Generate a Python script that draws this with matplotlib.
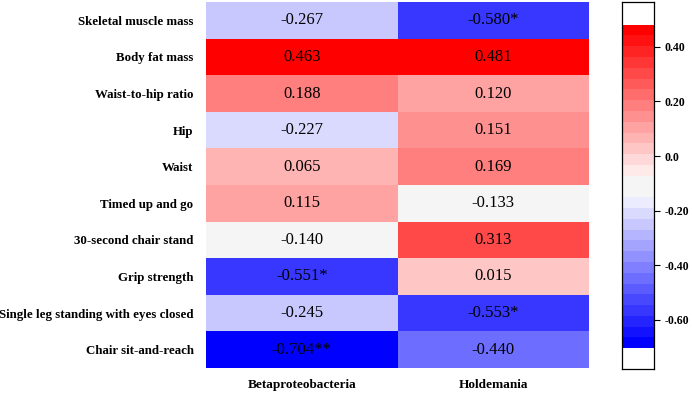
import numpy as np
import matplotlib
matplotlib.use("Agg")
import matplotlib.pyplot as plt
from matplotlib.colors import LinearSegmentedColormap, BoundaryNorm, ListedColormap

rows = ["Skeletal muscle mass", "Body fat mass", "Waist-to-hip ratio", "Hip", "Waist",
        "Timed up and go", "30-second chair stand", "Grip strength",
        "Single leg standing with eyes closed", "Chair sit-and-reach"]
cols = ["Betaproteobacteria", "Holdemania"]
beta = [-0.267, 0.463, 0.188, -0.227, 0.065, 0.115, -0.140, -0.551, -0.245, -0.704]
hold = [-0.580, 0.481, 0.120, 0.151, 0.169, -0.133, 0.313, 0.015, -0.553, -0.440]
beta_lab = ["-0.267", "0.463", "0.188", "-0.227", "0.065", "0.115", "-0.140", "-0.551*", "-0.245", "-0.704**"]
hold_lab = ["-0.580*", "0.481", "0.120", "0.151", "0.169", "-0.133", "0.313", "0.015", "-0.553*", "-0.440"]
cbar_ticks = [0.40, 0.20, 0.0, -0.20, -0.40, -0.60]
cbar_ticklabels = ["0.40", "0.20", "0.0", "-0.20", "-0.40", "-0.60"]

plt.rcParams['font.family'] = ['Liberation Serif', 'DejaVu Serif']

data = np.array([beta, hold]).T
labels = np.array([beta_lab, hold_lab]).T
vmin, vmax = data.min(), data.max()
nlev = 30
bounds = np.linspace(vmin, vmax, nlev + 1)
blue_side = LinearSegmentedColormap.from_list("b", ["#0000ff", "#ececff"])
red_side = LinearSegmentedColormap.from_list("r", ["#ffeaea", "#ff0000"])
centers = (bounds[:-1] + bounds[1:]) / 2
mid = nlev // 2
cols_list = []
for k, c in enumerate(centers):
    if k < mid - 1:
        cols_list.append(blue_side(k / (mid - 2)))
    elif k > mid:
        cols_list.append(red_side((k - mid - 1) / (nlev - mid - 2)))
    else:
        cols_list.append((0.96, 0.96, 0.96, 1))
cmap = ListedColormap(cols_list)
norm = BoundaryNorm(bounds, cmap.N)

fig = plt.figure(figsize=(6.92, 3.95), dpi=100)
ax = fig.add_axes([206/692, 1 - 368/395, (589-206)/692, 366/395])
ax.pcolormesh(np.arange(3), np.arange(11), data, cmap=cmap, norm=norm)
ax.set_xlim(0, 2)
ax.set_ylim(10, 0)
for i in range(10):
    for j in range(2):
        ax.text(j + 0.5, i + 0.5, labels[i, j], ha='center', va='center', fontsize=12, color='black')
ax.set_xticks([0.5, 1.5])
ax.set_xticklabels(cols, fontsize=9.5, fontweight='bold')
ax.set_yticks(np.arange(10) + 0.5)
ax.set_yticklabels(rows, fontsize=9.3, fontweight='bold')
ax.tick_params(length=0, pad=9)
ax.tick_params(axis='x', pad=8)
for s in ax.spines.values():
    s.set_visible(False)

cax = fig.add_axes([622/692, 1 - 369/395, 32/692, 367/395])
cax.pcolormesh([0, 1], bounds, centers.reshape(-1, 1), cmap=cmap, norm=norm)
cax.set_xlim(0, 1)
cax.set_ylim(vmin - 0.076, vmax + 0.083)
cax.set_xticks([])
cax.yaxis.tick_right()
cax.set_yticks(cbar_ticks)
cax.set_yticklabels(cbar_ticklabels, fontsize=8.6, fontweight='bold')
cax.tick_params(axis='y', length=4.3, width=0.8, pad=3.5)
for s in cax.spines.values():
    s.set_linewidth(0.9)

fig.savefig("out.png", dpi=100)
